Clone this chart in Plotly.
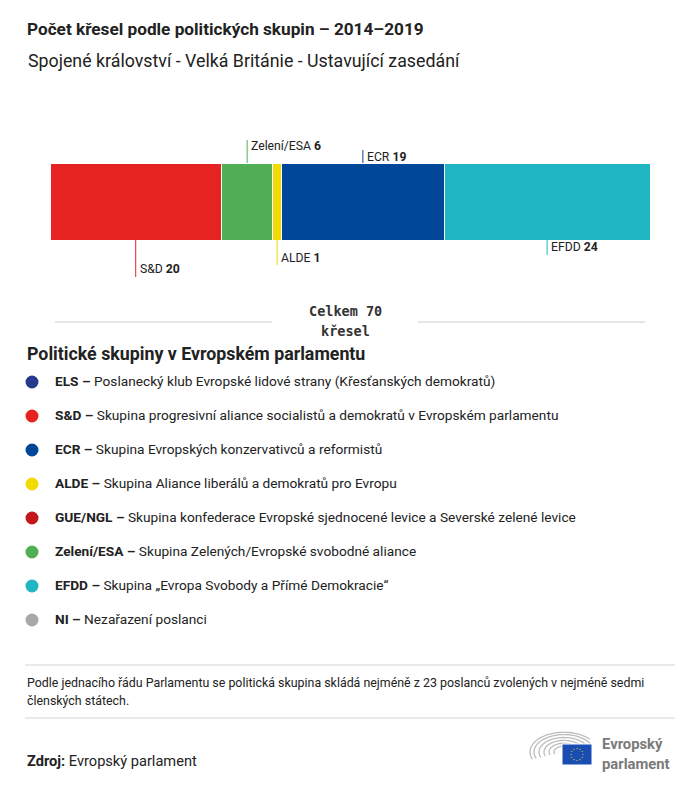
import numpy as np
import plotly.graph_objects as go

# ---------------- data ----------------
bar_groups = ["S&D", "Zelení/ESA", "ALDE", "ECR", "EFDD"]
bar_seats = [20, 6, 1, 19, 24]
bar_colors = ["#E52421", "#51AE55", "#F0DC00", "#00479A", "#20B6C4"]
total_seats = 70

legend_abbr = ["ELS", "S&D", "ECR", "ALDE", "GUE/NGL", "Zelení/ESA", "EFDD", "NI"]
legend_desc = [
    "Poslanecký klub Evropské lidové strany (Křesťanských demokratů)",
    "Skupina progresivní aliance socialistů a demokratů v Evropském parlamentu",
    "Skupina Evropských konzervativců a reformistů",
    "Skupina Aliance liberálů a demokratů pro Evropu",
    "Skupina konfederace Evropské sjednocené levice a Severské zelené levice",
    "Skupina Zelených/Evropské svobodné aliance",
    "Skupina „Evropa Svobody a Přímé Demokracie“",
    "Nezařazení poslanci",
]
legend_colors = ["#283A8E", "#E52421", "#00479A", "#F0DC00", "#C4161C", "#51AE55", "#20B6C4", "#A8A8A8"]

# label placement (layout only): leader end y (px) and label y (px)
label_line_end = [277, 140, 265, 150, 255]
label_text_y = [269, 146, 258, 157, 247]
label_side = ["below", "above", "below", "above", "below"]

W, H = 700, 786
OFF = 8  # page body margin
FONT = "Roboto"
TXT = "#222222"


def px(x):
    return (x - OFF) / W


def py(y):
    return 1 - (y - OFF) / H


fig = go.Figure()

BAR_TOP, BAR_BOT = 163, 240
for g, v, c in zip(bar_groups, bar_seats, bar_colors):
    fig.add_trace(go.Bar(
        y=[0], x=[v], orientation="h", name=g,
        marker=dict(color=c, line=dict(color="white", width=1)),
        width=1, hoverinfo="skip", showlegend=False,
    ))

fig.update_layout(
    barmode="stack",
    width=W, height=H,
    margin=dict(l=0, r=0, t=0, b=0),
    paper_bgcolor="white", plot_bgcolor="white",
    xaxis=dict(domain=[px(50), px(650)], range=[0, total_seats], visible=False, fixedrange=True),
    yaxis=dict(domain=[py(BAR_BOT), py(BAR_TOP)], range=[-0.5, 0.5], visible=False, fixedrange=True),
    font=dict(family=FONT, color=TXT),
)

shapes = []
annotations = []


def txt(x, y, text, size, color=TXT, family=FONT, anchor="left"):
    annotations.append(dict(xref="paper", yref="paper", x=px(x), y=py(y), xanchor=anchor, yanchor="middle",
                            showarrow=False, text=text, font=dict(size=size, color=color, family=family)))


# leader lines + labels
cum = np.cumsum([0] + bar_seats)
for i, (g, v, c) in enumerate(zip(bar_groups, bar_seats, bar_colors)):
    mid = (cum[i] + cum[i + 1]) / 2
    y0 = BAR_BOT if label_side[i] == "below" else BAR_TOP
    shapes.append(dict(type="line", xref="x", yref="paper", x0=mid, x1=mid,
                       y0=py(y0), y1=py(label_line_end[i]), line=dict(color=c, width=1)))
    annotations.append(dict(xref="x", yref="paper", x=mid, y=py(label_text_y[i]),
                            xanchor="left", yanchor="middle", xshift=2, showarrow=False,
                            text=f"{g} <b>{v}</b>", font=dict(size=12.2, color=TXT, family=FONT)))

# total
txt(345, 311, f"<b>Celkem {total_seats}</b>", 13.5, "#333333", "DejaVu Sans Mono", "center")
txt(345, 331, "<b>křesel</b>", 13.5, "#333333", "DejaVu Sans Mono", "center")
for a, b in [(55, 272), (418, 645)]:
    shapes.append(dict(type="line", xref="paper", yref="paper", x0=px(a), x1=px(b), y0=py(322), y1=py(322),
                       line=dict(color="#CCCCCC", width=1)))

# titles
txt(25, 29, "<b>Počet křesel podle politických skupin – 2014–2019</b>", 17.2)
txt(26, 60, "Spojené království - Velká Británie - Ustavující zasedání", 17.8)

# legend
txt(25, 353, "<b>Politické skupiny v Evropském parlamentu</b>", 17.8)
for i, (ab, de, c) in enumerate(zip(legend_abbr, legend_desc, legend_colors)):
    yy = 381 + 34 * i
    r = 6.5
    shapes.append(dict(type="circle", xref="paper", yref="paper", x0=px(32 - r), x1=px(32 + r),
                       y0=py(yy + 1 + r), y1=py(yy + 1 - r), fillcolor=c, line=dict(width=0)))
    txt(53, yy, f"<b>{ab} –</b> {de}", 13.7)

# footer
for yy in (665, 718):
    shapes.append(dict(type="line", xref="paper", yref="paper", x0=px(25), x1=px(675), y0=py(yy), y1=py(yy),
                       line=dict(color="#D5D5D5", width=1)))
txt(25, 682, "Podle jednacího řádu Parlamentu se politická skupina skládá nejméně z 23 poslanců zvolených v nejméně sedmi", 12.4)
txt(25, 700, "členských státech.", 12.4)
txt(25, 761, "<b>Zdroj:</b> Evropský parlament", 14.6)

# logo
cx, cy = 564, 752
for rx in [10, 15, 20, 25, 30, 34]:
    ry = rx * 0.58
    a_end = np.arccos(min(1.0, (590 - cx) / rx)) if rx > (590 - cx) else -0.05
    t = np.linspace(np.pi * 1.12, a_end, 40)
    pts = [(cx + rx * np.cos(a), cy - ry * np.sin(a)) for a in t]
    path = "M " + " L ".join(f"{px(x):.5f},{py(y):.5f}" for x, y in pts)
    shapes.append(dict(type="path", xref="paper", yref="paper", path=path,
                       line=dict(color="#BDBDBD", width=1.3)))
shapes.append(dict(type="rect", xref="paper", yref="paper", x0=px(562), x1=px(592), y0=py(765), y1=py(744),
                   fillcolor="#1A4DB3", line=dict(color="white", width=1)))
for k in range(12):
    a = 2 * np.pi * k / 12
    sx, sy = 577 + 6 * np.cos(a), 754.5 + 6 * np.sin(a)
    shapes.append(dict(type="circle", xref="paper", yref="paper", x0=px(sx - 0.6), x1=px(sx + 0.6),
                       y0=py(sy + 0.6), y1=py(sy - 0.6), fillcolor="#FFDD00", line=dict(width=0)))
txt(600, 744, "<b>Evropský</b>", 14.8, "#7A7A7A")
txt(600, 763.5, "<b>parlament</b>", 14.8, "#7A7A7A")

fig.update_layout(shapes=shapes, annotations=annotations)
fig.write_html("out.html")
